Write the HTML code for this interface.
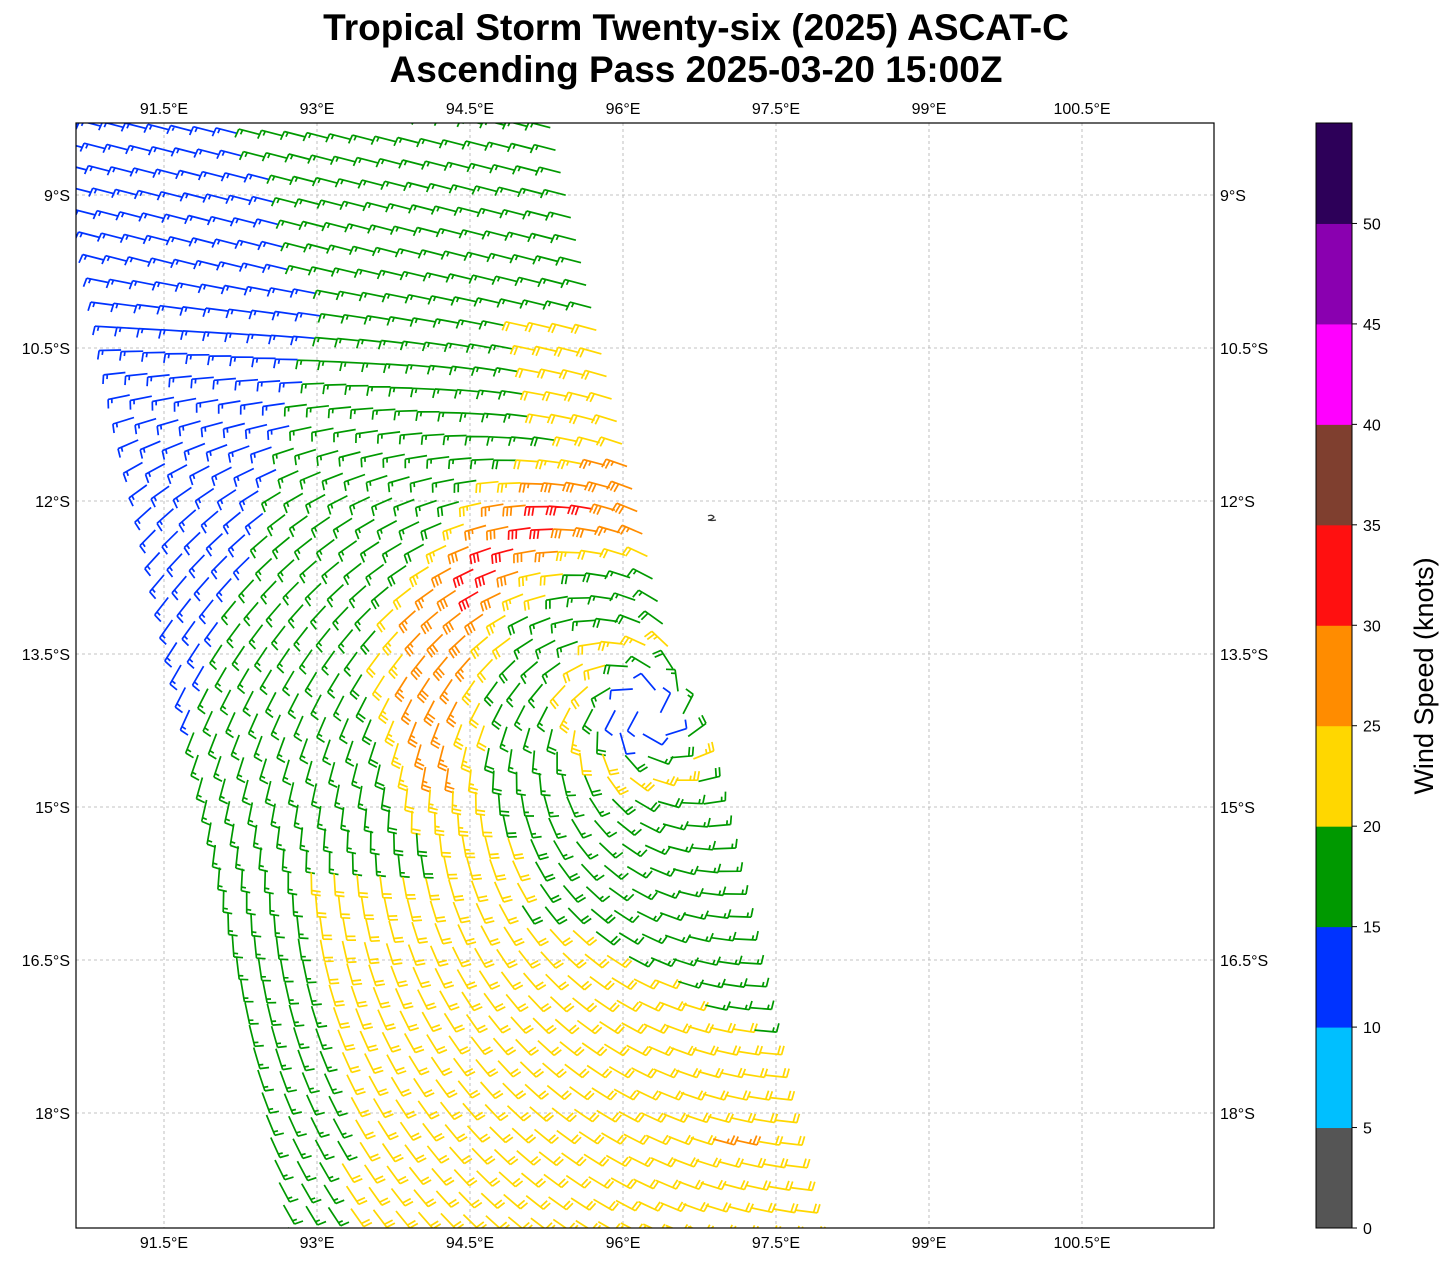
<!DOCTYPE html>
<html><head><meta charset="utf-8"><style>
body{margin:0;background:#fff;}
svg{display:block;font-family:"Liberation Sans","DejaVu Sans",sans-serif;}
</style></head><body>
<svg id="s" width="1452" height="1264" xmlns="http://www.w3.org/2000/svg">
<rect width="1452" height="1264" fill="#fff"/>
<text x="696" y="40" font-size="37" font-weight="bold" text-anchor="middle">Tropical Storm Twenty-six (2025) ASCAT-C</text>
<text x="696" y="82" font-size="37" font-weight="bold" text-anchor="middle">Ascending Pass 2025-03-20 15:00Z</text>
<defs><clipPath id="cp"><rect x="76" y="123" width="1138" height="1105"/></clipPath></defs>
<g id="grid" stroke="#b0b0b0" stroke-width="0.8" stroke-dasharray="3,3"></g>
<g id="barbs" clip-path="url(#cp)" fill="none" stroke-width="1.7" stroke-linecap="butt"></g>
<path d="M708,516 q4,-2 6,1 q-2,3 -6,3 q4,1 8,0" stroke="#333" fill="none" stroke-width="1.2"/>
<rect x="76" y="123" width="1138" height="1105" fill="none" stroke="#000" stroke-width="1.2"/>
<g id="labels" font-size="16"></g>
<g id="cb"></g>
<text transform="translate(1433,676) rotate(-90)" font-size="27" text-anchor="middle">Wind Speed (knots)</text>
</svg>
<script>
var NS="http://www.w3.org/2000/svg";
function el(t,a,p,txt){var e=document.createElementNS(NS,t);for(var k in a)e.setAttribute(k,a[k]);if(txt!==undefined)e.textContent=txt;p.appendChild(e);return e;}
var grid=document.getElementById('grid'),labels=document.getElementById('labels');
var lons=["91.5°E","93°E","94.5°E","96°E","97.5°E","99°E","100.5°E"];
for(var i=0;i<7;i++){var x=164+i*153;
 el('line',{x1:x,y1:123,x2:x,y2:1228},grid);
 el('text',{x:x,y:114,'text-anchor':'middle'},labels,lons[i]);
 el('text',{x:x,y:1248,'text-anchor':'middle'},labels,lons[i]);}
var lats=["9°S","10.5°S","12°S","13.5°S","15°S","16.5°S","18°S"];
for(var i=0;i<7;i++){var y=195+i*153;
 el('line',{x1:76,y1:y,x2:1214,y2:y},grid);
 el('text',{x:70,y:y+6,'text-anchor':'end'},labels,lats[i]);
 el('text',{x:1220,y:y+6},labels,lats[i]);}
var cols=["#555555","#00bfff","#0033ff","#009900","#ffd700","#ff8c00","#ff1010","#7f3f2f","#ff00ff","#8a00b0","#2d0059"];
var cb=document.getElementById('cb');var segH=1105/11;
for(var i=0;i<11;i++){el('rect',{x:1316,y:1228-(i+1)*segH,width:36,height:segH+0.5,fill:cols[i]},cb);
 var ty=1228-i*segH;el('line',{x1:1352,y1:ty,x2:1357,y2:ty,stroke:'#000'},cb);
 el('text',{x:1363,y:ty+6,'font-size':16},cb,String(i*5));}
el('rect',{x:1316,y:123,width:36,height:1105,fill:'none',stroke:'#000','stroke-width':1},cb);
var bg=document.getElementById('barbs');
var cx=645,cy=712;
function xb(y){return y<330?250+(y-123)*0.39:330-(y-330)*0.35;}
var pk=Math.atan2(-172,-105);
function speed(x,y){
 var dx=x-cx,dy=y-cy,r=Math.sqrt(dx*dx+dy*dy);
 if(r<35)return 12;
 if(Math.hypot(x-725,y-1145)<16)return 27;
 var base=17;
 if(x<xb(y))base=12;
 if(y>820&&x>300+(y-820)*0.12&&r>230&&y>860+Math.max(0,x-480)*0.65)base=22;
 if(y>320&&y<470&&x>520+(y-320)*0.3)base=22;
 var th=Math.atan2(dy,dx),w=0.55+0.45*Math.cos(th-pk);
 var ringA=14+17*w*Math.exp(-Math.pow((r-215)/62,2));
 var inner=r<150?12+11*Math.exp(-Math.pow((r-70)/30,2)):0;
 return Math.max(base,ringA,inner);}
function color(s){return cols[Math.min(10,Math.floor(s/5))];}
var out="",sp=22.5;
for(var yr=80;yr<1260;yr+=sp){
 var xL=78+0.19*(yr-123),xR=555+0.227*(yr-123);
 var n=Math.round((xR-xL)/sp);
 for(var j=0;j<=n;j++){
 var x=xL+j*(xR-xL)/n,y=yr+j*1.2;
 if(y<110||y>1240)continue;
 var s=speed(x,y);
 var dx=x-cx,dy=y-cy,r=Math.sqrt(dx*dx+dy*dy)||1;
 var vx=-dy/r-0.45*dx/r,vy=dx/r-0.45*dy/r;
 var vl=Math.sqrt(vx*vx+vy*vy);vx/=vl;vy/=vl;
 var f=Math.min(1,Math.max(0,(cy-200-y)/250));
 vx=vx*(1-f)+f*0.97;vy=vy*(1-f)+f*0.25;
 vl=Math.sqrt(vx*vx+vy*vy);var ux=-vx/vl,uy=-vy/vl;
 var nx=uy,ny=-ux;
 var L=22,ex=x+ux*L,ey=y+uy*L;
 var d="M"+x.toFixed(1)+","+y.toFixed(1)+"L"+ex.toFixed(1)+","+ey.toFixed(1);
 var q=Math.round(s/5),full=Math.floor(q/2),half=q%2,pos=0;
 for(var k=0;k<full;k++){var px=ex-ux*pos,py=ey-uy*pos;
  d+="M"+px.toFixed(1)+","+py.toFixed(1)+"l"+(nx*9+ux*1.5).toFixed(1)+","+(ny*9+uy*1.5).toFixed(1);pos+=3.8;}
 if(half){if(full==0)pos=3.8;var px=ex-ux*pos,py=ey-uy*pos;
  d+="M"+px.toFixed(1)+","+py.toFixed(1)+"l"+(nx*4.5+ux*0.8).toFixed(1)+","+(ny*4.5+uy*0.8).toFixed(1);}
 out+='<path d="'+d+'" stroke="'+color(s)+'"/>';
 }
}
bg.innerHTML=out;
</script>
</body></html>
